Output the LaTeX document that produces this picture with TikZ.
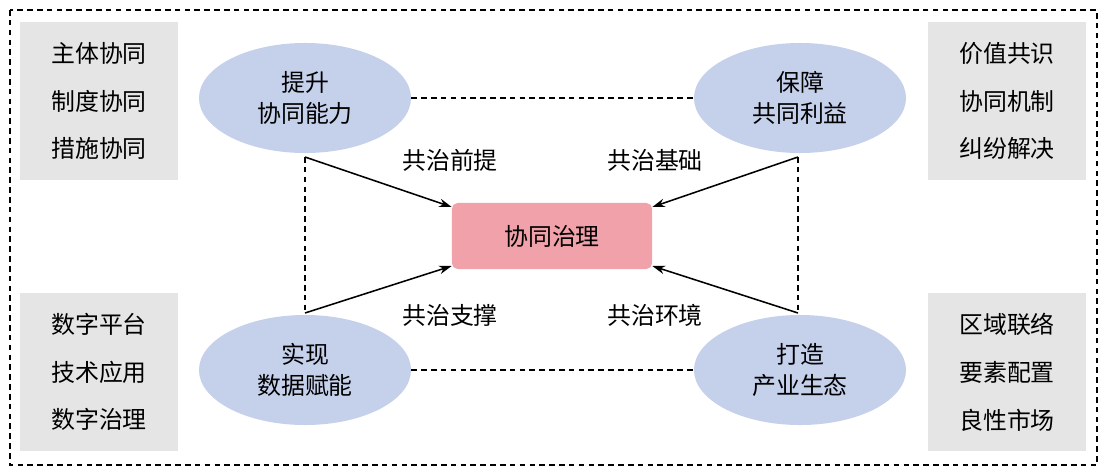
\documentclass[tikz,border=0pt]{standalone}
\usepackage{fontspec}
\setmainfont{Noto Sans CJK SC}
\usetikzlibrary{shapes.geometric,arrows.meta}
\definecolor{boxgray}{HTML}{E5E5E5}
\definecolor{ellblue}{HTML}{C5D0EB}
\definecolor{corepink}{HTML}{F1A1A9}
\begin{document}
\begin{tikzpicture}[x=0.025cm,y=-0.025cm,
    goal/.style={ellipse,fill=ellblue,minimum width=5.3cm,minimum height=2.75cm,align=center,font=\fontsize{17}{22}\selectfont},
    side/.style={fill=boxgray,minimum width=3.95cm,minimum height=3.95cm,align=center,font=\fontsize{17}{34}\selectfont},
    tag/.style={font=\fontsize{17}{20}\selectfont},
    link/.style={dash pattern=on 4pt off 3pt,thick},
    push/.style={-{Stealth[length=9pt,width=6pt]},line width=1.1pt}]
        \useasboundingbox (0,0) rectangle (1107,475);
        \draw[link] (10,10) rectangle (1097,465);

        \node[side] (B1) at (99,101) {主体协同\\制度协同\\措施协同};
        \node[side] (B2) at (1007,101) {价值共识\\协同机制\\纠纷解决};
        \node[side] (B3) at (99,372) {数字平台\\技术应用\\数字治理};
        \node[side] (B4) at (1007,372) {区域联络\\要素配置\\良性市场};

        \node[goal] (G1) at (305,98) {提升\\协同能力};
        \node[goal] (G2) at (800,98) {保障\\共同利益};
        \node[goal] (G3) at (305,370) {实现\\数据赋能};
        \node[goal] (G4) at (800,370) {打造\\产业生态};

        \node[fill=corepink,rounded corners=4pt,minimum width=5cm,minimum height=1.65cm,font=\fontsize{17}{20}\selectfont] (C) at (552,236) {协同治理};

        \coordinate (L1) at (305,157);
        \coordinate (L2) at (305,313);
        \coordinate (R1) at (798,157);
        \coordinate (R2) at (798,313);

        \draw[link] (G1.east) -- (G2.west);
        \draw[link] (G3.east) -- (G4.west);
        \draw[link] (L1) -- (L2);
        \draw[link] (R1) -- (R2);

        \draw[push] (L1) -- (C.north west |- 0,207);
        \draw[push] (L2) -- (C.south west |- 0,266);
        \draw[push] (R1) -- (C.north east |- 0,207);
        \draw[push] (R2) -- (C.south east |- 0,266);

        \node[tag] (T1) at (450,160) {共治前提};
        \node[tag] (T2) at (655,160) {共治基础};
        \node[tag] (T3) at (450,315) {共治支撑};
        \node[tag] (T4) at (655,315) {共治环境};
\end{tikzpicture}
\end{document}
